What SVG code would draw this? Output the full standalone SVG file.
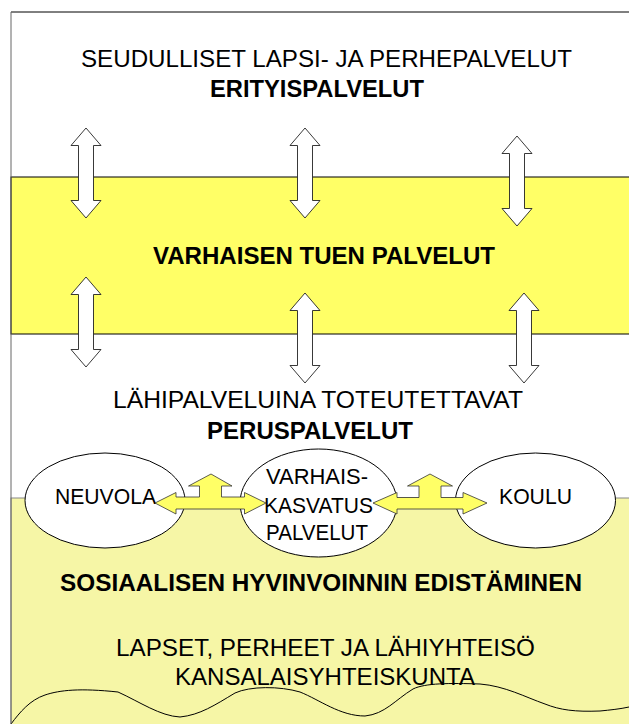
<svg xmlns="http://www.w3.org/2000/svg" width="629" height="724" viewBox="0 0 629 724">
<style>
text{font-family:"Liberation Sans",Arial,sans-serif;font-size:24px;fill:#000}
.b{font-weight:bold}
.s{font-size:22px}
.va{fill:#fff;stroke:#222;stroke-width:0.9}
.ya{fill:#ffff66;stroke:#333;stroke-width:0.8}
.el{fill:#fff;stroke:#000;stroke-width:1}
</style>
<rect x="0" y="0" width="629" height="724" fill="#fff"/>
<g id="band-top">
<line x1="11" y1="12" x2="629" y2="12" stroke="#000" stroke-width="1"/>
<text x="81" y="67" textLength="491" lengthAdjust="spacingAndGlyphs">SEUDULLISET LAPSI- JA PERHEPALVELUT</text>
<text class="b" x="210" y="97" textLength="214" lengthAdjust="spacingAndGlyphs">ERITYISPALVELUT</text>
</g>
<g id="band-varhainen">
<rect x="11" y="177" width="620" height="157" fill="#ffff66" stroke="#000" stroke-width="1"/>
<text class="b" x="153" y="264" textLength="342" lengthAdjust="spacingAndGlyphs">VARHAISEN TUEN PALVELUT</text>
</g>
<g id="band-perus">
<text x="113" y="408" textLength="410" lengthAdjust="spacingAndGlyphs">LÄHIPALVELUINA TOTEUTETTAVAT</text>
<text class="b" x="207" y="439" textLength="206" lengthAdjust="spacingAndGlyphs">PERUSPALVELUT</text>
</g>
<g id="band-bottom">
<rect x="11" y="498" width="620" height="230" fill="#f6f6a6" stroke="#888" stroke-width="1"/>
<text class="b" x="60" y="591" textLength="522" lengthAdjust="spacingAndGlyphs">SOSIAALISEN HYVINVOINNIN EDISTÄMINEN</text>
<text x="116" y="656" textLength="419" lengthAdjust="spacingAndGlyphs">LAPSET, PERHEET JA LÄHIYHTEISÖ</text>
<text x="175" y="685" textLength="300" lengthAdjust="spacingAndGlyphs">KANSALAISYHTEISKUNTA</text>
<path d="M11 724 C20 712 30 700 45 695 C60 690 80 688 118 692 C140 702 160 716 180 717 C200 715 215 705 235 693 C250 686 280 686 300 692 C320 700 340 716 365 716 C385 714 395 700 413 689 C425 683 450 683 480 684 C505 686 525 697 545 704 C560 710 575 712 600 711 C610 710 620 709 629 707" fill="none" stroke="#000" stroke-width="1"/>
</g>
<line x1="11" y1="12" x2="11" y2="724" stroke="#666" stroke-width="1"/>
<g id="neuvola">
<ellipse class="el" cx="105" cy="500.5" rx="80" ry="47.5"/>
<text class="s" x="55" y="504" textLength="101" lengthAdjust="spacingAndGlyphs">NEUVOLA</text>
</g>
<g id="varhaiskasvatus">
<ellipse class="el" cx="318.5" cy="503" rx="78.5" ry="54"/>
<text class="s" x="266" y="484" textLength="102" lengthAdjust="spacingAndGlyphs">VARHAIS-</text>
<text class="s" x="264" y="513" textLength="109" lengthAdjust="spacingAndGlyphs">KASVATUS</text>
<text class="s" x="266" y="540" textLength="102" lengthAdjust="spacingAndGlyphs">PALVELUT</text>
</g>
<g id="koulu">
<ellipse class="el" cx="535.5" cy="500.5" rx="80" ry="47.5"/>
<text class="s" x="499" y="504" textLength="73" lengthAdjust="spacingAndGlyphs">KOULU</text>
</g>
<g id="connectors">
<polygon class="va" points="86,128 101,145.5 93.5,145.5 93.5,200.5 101,200.5 86,218 71,200.5 78.5,200.5 78.5,145.5 71,145.5"/>
<polygon class="va" points="305,128 320,145.5 312.5,145.5 312.5,200.5 320,200.5 305,218 290,200.5 297.5,200.5 297.5,145.5 290,145.5"/>
<polygon class="va" points="517,136 532,153.5 524.5,153.5 524.5,208.5 532,208.5 517,226 502,208.5 509.5,208.5 509.5,153.5 502,153.5"/>
<polygon class="va" points="86,277 101,294.5 93.5,294.5 93.5,349.5 101,349.5 86,367 71,349.5 78.5,349.5 78.5,294.5 71,294.5"/>
<polygon class="va" points="305,293 320,310.5 312.5,310.5 312.5,365.5 320,365.5 305,383 290,365.5 297.5,365.5 297.5,310.5 290,310.5"/>
<polygon class="va" points="524,293 539,310.5 531.5,310.5 531.5,365.5 539,365.5 524,383 509,365.5 516.5,365.5 516.5,310.5 509,310.5"/>
<polygon class="ya" points="155,503 176,492.5 176,497 199.5,497 199.5,486 188.5,486 211,474 232,486 221.5,486 221.5,497 244.5,497 244.5,492.5 266,503 244.5,514 244.5,509 176,509 176,514"/>
<polygon class="ya" points="373,503 397,492.5 397,497.5 419,497.5 419,486 407.5,486 430,474 452.5,486 441,486 441,497.5 463,497.5 463,492.5 487,503 463,514 463,509 397,509 397,514"/>
</g>
</svg>
